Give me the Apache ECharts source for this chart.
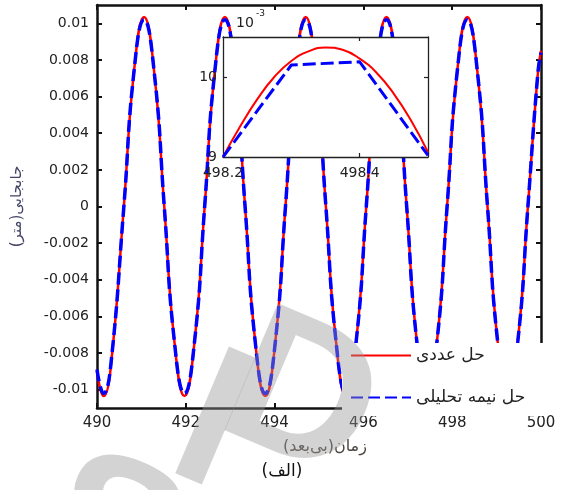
<!DOCTYPE html>
<html>
<head>
<meta charset="utf-8">
<script src="https://cdn.jsdelivr.net/npm/echarts@6/dist/echarts.min.js"></script>
<style>
  html, body { margin: 0; padding: 0; background: #fff; }
  #chart { width: 563px; height: 490px; }
</style>
</head>
<body>
<div id="chart"></div>
<script>
// Axis ticks of the main plot
const xTicks = [490, 492, 494, 496, 498, 500];
const yTicks = [-0.01, -0.008, -0.006, -0.004, -0.002, 0, 0.002, 0.004, 0.006, 0.008, 0.01];

// Displacement over time (main plot)
const tMain = [490.00, 490.15, 490.30, 490.605, 490.83, 491.06, 491.29, 491.515, 491.74, 491.97,
  492.20, 492.425, 492.65, 492.88, 493.11, 493.335, 493.56, 493.79, 494.02, 494.245,
  494.47, 494.70, 494.93, 495.155, 495.38, 495.61, 495.84, 496.065, 496.29, 496.52,
  496.75, 496.975, 497.20, 497.43, 497.66, 497.885, 498.11, 498.34, 498.57, 498.795,
  499.02, 499.25, 499.48, 499.705, 499.93, 500.00];
const yNumeric = [-0.0090, -0.01035, -0.0090, 0.0000, 0.0073, 0.01035, 0.0073, 0.0000, -0.0073, -0.01035,
  -0.0073, 0.0000, 0.0073, 0.01035, 0.0073, 0.0000, -0.0073, -0.01035, -0.0073, 0.0000,
  0.0073, 0.01035, 0.0073, 0.0000, -0.0073, -0.01035, -0.0073, 0.0000, 0.0073, 0.01035,
  0.0073, 0.0000, -0.0073, -0.01035, -0.0073, 0.0000, 0.0073, 0.01035, 0.0073, 0.0000,
  -0.0073, -0.01035, -0.0073, 0.0000, 0.0073, 0.0085];
const ySemi = [-0.0089, -0.0102, -0.0089, 0.0000, 0.0073, 0.0102, 0.0073, 0.0000, -0.0073, -0.0102,
  -0.0073, 0.0000, 0.0073, 0.0102, 0.0073, 0.0000, -0.0073, -0.0102, -0.0073, 0.0000,
  0.0073, 0.0102, 0.0073, 0.0000, -0.0073, -0.0102, -0.0073, 0.0000, 0.0073, 0.0102,
  0.0073, 0.0000, -0.0073, -0.0102, -0.0073, 0.0000, 0.0073, 0.0102, 0.0073, 0.0000,
  -0.0073, -0.0102, -0.0073, 0.0000, 0.0073, 0.0084];

// Close-up of the peak near t = 498.35 (inset)
const tZoomNumeric = [498.200, 498.225, 498.250, 498.275, 498.300, 498.325, 498.350,
  498.375, 498.400, 498.425, 498.450, 498.475, 498.500];
const yZoomNumeric = [0.00900, 0.00938, 0.00972, 0.01000, 0.01020, 0.01032, 0.01037,
  0.01034, 0.01023, 0.01005, 0.00979, 0.00946, 0.00906];
const tZoomSemi = [498.2, 498.3, 498.4, 498.5];
const yZoomSemi = [0.00900, 0.01015, 0.01019, 0.00902];
const zoomXTicks = [498.2, 498.4];
const zoomYTicks = [0.009, 0.010];

const seriesNames = ['حل عددی', 'حل نیمه تحلیلی'];
const xName = 'زمان(بی‌بعد)\u200F';
const yName = 'جابجایی(متر)\u200F';
const caption = '\u200F(الف)\u200F';

const zip = (xs, ys) => xs.map((x, i) => [x, ys[i]]);
const FONT = 'DejaVu Sans';
const fmtY = v => String(parseFloat(Number(v).toFixed(4)));

const frameLine = { show: true, onZero: false, lineStyle: { color: '#111', width: 2.5 } };
const innerTick = (vals) => ({ show: true, inside: true, length: 5, customValues: vals, lineStyle: { color: '#111', width: 2 } });
const insetLine = { show: true, onZero: false, lineStyle: { color: '#222', width: 1.3 } };
const insetTick = (vals) => ({ show: true, inside: true, length: 4, customValues: vals, lineStyle: { color: '#222', width: 1.2 } });

const stampLetter = (ch, x, y) => ({
  type: 'text', x, y, rotation: -0.4, z: 100, silent: true,
  style: { text: ch, font: 'bold 200px "Liberation Sans"', fill: 'rgba(150,150,150,0.42)',
    textAlign: 'center', textVerticalAlign: 'middle' }
});

const chart = echarts.init(document.getElementById('chart'), null, { renderer: 'canvas' });

chart.setOption({
  animation: false,
  backgroundColor: '#fff',
  grid: [
    { left: 97, top: 5, width: 444, height: 403 },
    { left: 223, top: 37, width: 205, height: 120, show: true, backgroundColor: '#fff', borderWidth: 0, z: 10 }
  ],
  xAxis: [
    {
      type: 'value', gridIndex: 0, position: 'bottom', min: 490, max: 500, interval: 2,
      axisLine: frameLine, axisTick: innerTick(xTicks), splitLine: { show: false },
      axisLabel: { customValues: xTicks, margin: 8, fontFamily: FONT, fontSize: 15, color: '#222' },
      name: xName, nameLocation: 'middle', nameGap: 31,
      nameTextStyle: { fontFamily: FONT, fontSize: 16, color: '#4d4640', padding: [0, 0, 0, 12] }
    },
    {
      type: 'value', gridIndex: 0, position: 'top', min: 490, max: 500, interval: 2,
      axisLine: frameLine, axisTick: innerTick(xTicks), splitLine: { show: false },
      axisLabel: { show: false }
    },
    {
      type: 'value', gridIndex: 1, position: 'bottom', min: 498.2, max: 498.5, interval: 0.2, z: 11,
      axisLine: insetLine, axisTick: insetTick([498.4]), splitLine: { show: false },
      axisLabel: { customValues: zoomXTicks, margin: 9, fontFamily: FONT, fontSize: 14, color: '#222',
        formatter: v => Number(v).toFixed(1) }
    },
    {
      type: 'value', gridIndex: 1, position: 'top', min: 498.2, max: 498.5, interval: 0.2, z: 11,
      axisLine: insetLine, axisTick: insetTick([498.4]), splitLine: { show: false },
      axisLabel: { show: false }
    }
  ],
  yAxis: [
    {
      type: 'value', gridIndex: 0, position: 'left', min: -0.011, max: 0.011,
      axisLine: frameLine, axisTick: innerTick(yTicks), splitLine: { show: false },
      axisLabel: { customValues: yTicks, margin: 8, fontFamily: FONT, fontSize: 14, color: '#222', formatter: fmtY },
      name: yName, nameLocation: 'middle', nameGap: 72, nameRotate: 90,
      nameTextStyle: { fontFamily: FONT, fontSize: 15, color: '#444466' }
    },
    {
      type: 'value', gridIndex: 0, position: 'right', min: -0.011, max: 0.011,
      axisLine: frameLine, axisTick: innerTick(yTicks), splitLine: { show: false },
      axisLabel: { show: false }
    },
    {
      type: 'value', gridIndex: 1, position: 'left', min: 0.009, max: 0.0105, interval: 0.001, z: 11,
      axisLine: insetLine, axisTick: insetTick([0.010]), splitLine: { show: false },
      axisLabel: { customValues: zoomYTicks, margin: 6, fontFamily: FONT, fontSize: 14, color: '#222',
        formatter: v => String(Math.round(v * 1000)) }
    },
    {
      type: 'value', gridIndex: 1, position: 'right', min: 0.009, max: 0.0105, interval: 0.001, z: 11,
      axisLine: insetLine, axisTick: insetTick([0.010]), splitLine: { show: false },
      axisLabel: { show: false }
    }
  ],
  legend: {
    orient: 'vertical', left: 342, top: 343,
    padding: [4, 22, 10, 8],
    itemWidth: 60, itemHeight: 12, itemGap: 25,
    backgroundColor: '#fff', z: 8,
    data: seriesNames,
    itemStyle: { opacity: 0 },
    textStyle: { fontFamily: FONT, fontSize: 17, color: '#222' }
  },
  series: [
    {
      name: seriesNames[0], type: 'line', xAxisIndex: 0, yAxisIndex: 0,
      data: zip(tMain, yNumeric), smooth: true, symbol: 'none', z: 2,
      lineStyle: { color: '#ff0000', width: 2.5 }, itemStyle: { color: '#ff0000' }
    },
    {
      name: seriesNames[1], type: 'line', xAxisIndex: 0, yAxisIndex: 0,
      data: zip(tMain, ySemi), smooth: true, symbol: 'none', z: 3,
      lineStyle: { color: '#0000ff', width: 3.5, type: [12, 5] }, itemStyle: { color: '#0000ff' }
    },
    {
      name: seriesNames[0], type: 'line', xAxisIndex: 2, yAxisIndex: 2,
      data: zip(tZoomNumeric, yZoomNumeric), smooth: true, symbol: 'none', z: 12,
      lineStyle: { color: '#ff0000', width: 2 }, itemStyle: { color: '#ff0000' }
    },
    {
      name: seriesNames[1], type: 'line', xAxisIndex: 2, yAxisIndex: 2,
      data: zip(tZoomSemi, yZoomSemi), smooth: false, symbol: 'none', z: 13,
      lineStyle: { color: '#0000ff', width: 3, type: [13, 5] }, itemStyle: { color: '#0000ff' }
    }
  ],
  graphic: [
    // scale factor of the inset's vertical axis
    { type: 'text', x: 236, y: 23, z: 20,
      style: { text: '10', font: '14px "DejaVu Sans"', fill: '#222', textAlign: 'left', textVerticalAlign: 'middle' } },
    { type: 'text', x: 256, y: 14, z: 20,
      style: { text: '-3', font: '9px "DejaVu Sans"', fill: '#222', textAlign: 'left', textVerticalAlign: 'middle' } },
    // figure caption
    { type: 'text', x: 282, y: 472, z: 20,
      style: { text: caption, font: '17px "DejaVu Sans"', fill: '#111', textAlign: 'center', textVerticalAlign: 'middle' } },
    // faint stamp across the lower half
    stampLetter('S', 110, 540),
    stampLetter('I', 210, 428),
    stampLetter('D', 300, 402)
  ]
});
</script>
</body>
</html>
